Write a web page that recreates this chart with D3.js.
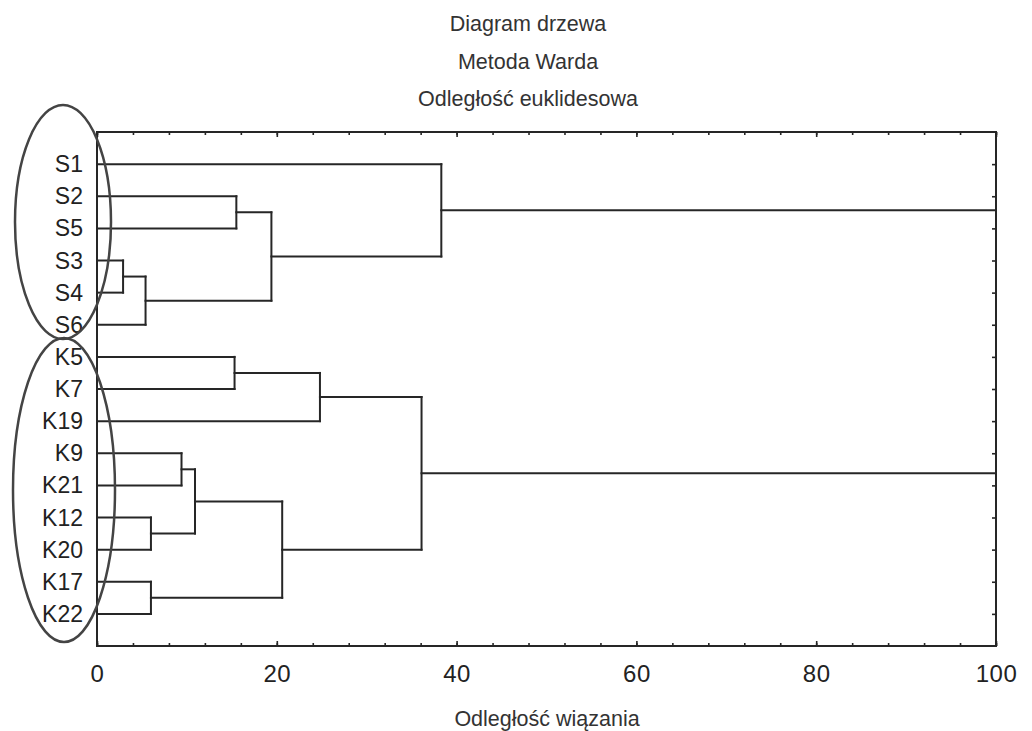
<!DOCTYPE html>
<html>
<head>
<meta charset="utf-8">
<script src="https://cdn.jsdelivr.net/npm/d3@7"></script>
<style>
  html, body { margin: 0; padding: 0; background: #fff; }
  svg { display: block; font-family: "Liberation Sans", Arial, sans-serif; }
</style>
</head>
<body>
<svg id="chart" width="1032" height="731"></svg>
<script>
// ---- data ----
const titleLines = ["Diagram drzewa", "Metoda Warda", "Odległość euklidesowa"];
const xAxisTitle = "Odległość wiązania";
const leaves = ["S1","S2","S5","S3","S4","S6","K5","K7","K19","K9","K21","K12","K20","K17","K22"];
// linkage: node ids 0..14 are leaves, each merge i creates node 15 + i
const mergeA      = [3, 15, 1, 17, 0, 11, 13,  9, 22,  6, 24, 23, 25, 19];
const mergeB      = [4,  5, 2, 16, 18, 12, 14, 10, 20,  7,  8, 21, 26, 27];
const mergeHeight = [2.9, 5.4, 15.5, 19.4, 38.3, 6.0, 6.0, 9.4, 10.9, 15.3, 24.8, 20.6, 36.1, 100];
const majorTicks = [0, 20, 40, 60, 80, 100];
const minorTicks = d3.range(0, 101, 4);

const svg = d3.select("#chart");
const L = 97, R = 996, T = 132, B = 646;
const x = d3.scaleLinear().domain([0, 100]).range([L, R]);
const y = d3.scalePoint().domain(leaves).range([T, B]).padding(1);
const ink = "#262626";

// title
svg.append("g").selectAll("text").data(titleLines).join("text")
  .attr("x", 528).attr("y", (d, i) => 31 + i * 37.5)
  .attr("text-anchor", "middle").attr("font-size", 21.5).attr("fill", "#333")
  .text(d => d);

// node positions
const nodeY = leaves.map(l => y(l));
const nodeH = leaves.map(() => 0);
const links = [];
mergeA.forEach((a, i) => {
  const b = mergeB[i], h = mergeHeight[i];
  const ya = nodeY[a], yb = nodeY[b];
  links.push({x1: x(nodeH[a]), y1: ya, x2: x(h), y2: ya});
  links.push({x1: x(nodeH[b]), y1: yb, x2: x(h), y2: yb});
  links.push({x1: x(h), y1: ya, x2: x(h), y2: yb});
  nodeY.push((ya + yb) / 2);
  nodeH.push(h);
});

// frame
svg.append("rect").attr("x", L).attr("y", T).attr("width", R - L).attr("height", B - T)
  .attr("fill", "none").attr("stroke", ink).attr("stroke-width", 2);

// axes (ticks inward)
function styleAxis(g) {
  g.select(".domain").remove();
  g.selectAll(".tick line").attr("stroke", ink).attr("stroke-width", 1.6);
}
svg.append("g").attr("transform", `translate(0,${B})`)
  .call(d3.axisBottom(x).tickValues(minorTicks).tickSize(-3).tickFormat(""))
  .call(styleAxis);
svg.append("g").attr("transform", `translate(0,${T})`)
  .call(d3.axisTop(x).tickValues(minorTicks).tickSize(-3).tickFormat(""))
  .call(styleAxis);
svg.append("g").attr("transform", `translate(0,${T})`)
  .call(d3.axisTop(x).tickValues(majorTicks).tickSize(-5).tickFormat(""))
  .call(styleAxis);
const xb = svg.append("g").attr("transform", `translate(0,${B})`)
  .call(d3.axisBottom(x).tickValues(majorTicks).tickSize(-5).tickFormat(d3.format("d")))
  .call(styleAxis);
xb.selectAll(".tick text").attr("y", 36).attr("dy", null)
  .attr("font-size", 24).attr("fill", "#222").attr("font-family", "Liberation Sans, Arial, sans-serif")
  .attr("letter-spacing", 0.5);
svg.append("g").attr("transform", `translate(${R},0)`)
  .call(d3.axisRight(y).tickSize(-4).tickFormat(""))
  .call(styleAxis);

// leaf labels
svg.append("g").selectAll("text").data(leaves).join("text")
  .attr("x", 83).attr("y", d => y(d) + 8)
  .attr("text-anchor", "end").attr("font-size", 23).attr("fill", "#222")
  .text(d => d);

// dendrogram
svg.append("g").selectAll("line").data(links).join("line")
  .attr("x1", d => d.x1).attr("y1", d => d.y1)
  .attr("x2", d => d.x2).attr("y2", d => d.y2)
  .attr("stroke", ink).attr("stroke-width", 2).attr("stroke-linecap", "square");

// x axis title
svg.append("text").attr("x", 547).attr("y", 726)
  .attr("text-anchor", "middle").attr("font-size", 21.5).attr("fill", "#333")
  .text(xAxisTitle);

// hand-drawn ellipses around groups
svg.append("ellipse").attr("cx", 63).attr("cy", 222).attr("rx", 48).attr("ry", 117)
  .attr("fill", "none").attr("stroke", "#444").attr("stroke-width", 2.5);
svg.append("ellipse").attr("cx", 64).attr("cy", 490).attr("rx", 51).attr("ry", 152)
  .attr("fill", "none").attr("stroke", "#444").attr("stroke-width", 2.5);
</script>
</body>
</html>
